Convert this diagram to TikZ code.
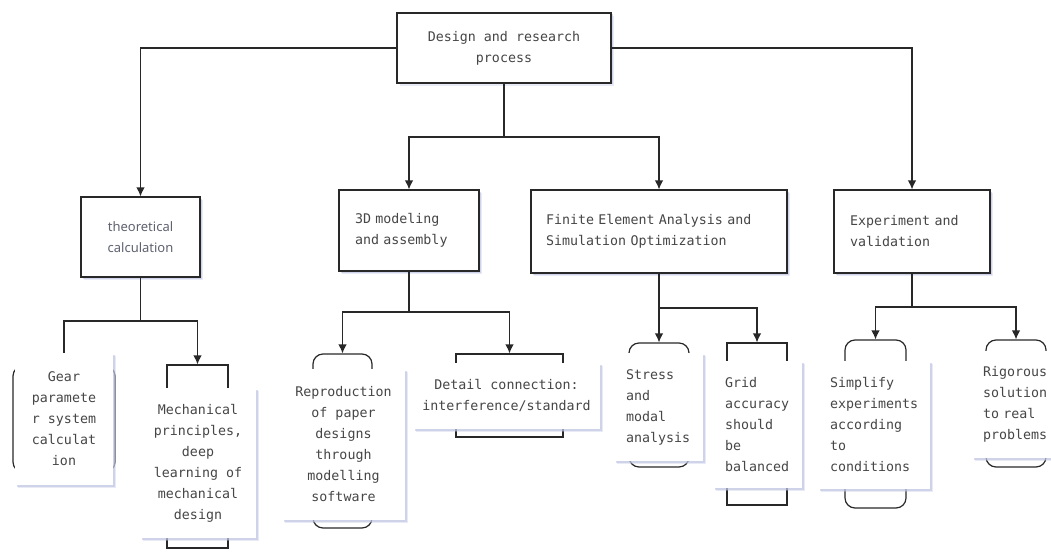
\documentclass[tikz,border=0pt]{standalone}
\usepackage{fontspec}
\setmainfont{Noto Sans}
\newfontfamily\monofont{DejaVu Sans Mono}
\usetikzlibrary{positioning}
\usetikzlibrary{shadows}
\usetikzlibrary{arrows.meta}

\definecolor{inkgray}{RGB}{70,70,70}
\definecolor{sansgray}{RGB}{95,99,112}
\definecolor{linegray}{RGB}{40,40,40}
\definecolor{shadowblue}{RGB}{190,196,225}

\begin{document}
\begin{tikzpicture}[x=1pt,y=-1pt,
    boxshadow/.style={
      drop shadow={shadow xshift=3pt,shadow yshift=-3pt,fill=shadowblue,opacity=0.35},
      drop shadow={shadow xshift=1.5pt,shadow yshift=-1.5pt,fill=shadowblue,opacity=0.6}},
    stage/.style={draw=linegray, line width=1.2pt, fill=white, text=inkgray,
      font=\monofont\fontsize{13.3}{21}\selectfont, boxshadow},
    frame/.style={draw=linegray, line width=1.2pt, fill=white, minimum width=10pt, inner sep=0pt},
    roundframe/.style={frame, rounded corners=10pt},
    panel/.style={fill=white, text=inkgray, inner ysep=0pt,
      font=\monofont\fontsize{13.3}{21}\selectfont, boxshadow},
    link/.style={draw=linegray, line width=1.2pt},
    arrow/.style={link, -{Latex[length=9pt,width=8.5pt]}}]
  \useasboundingbox (0,0) rectangle (1051,559);

  % stages
  \node[stage, minimum width=214pt, minimum height=70pt, align=center] (root) at (504,48)
    {Design and research\\process};
  \node[stage, font=\fontsize{13}{21}\selectfont, text=sansgray, minimum width=119pt,
    minimum height=80pt, align=center] (theo) at (140.5,237) {theoretical\\calculation};
  \node[stage, minimum height=81pt, inner xsep=16pt, text width=108pt, align=left] (model)
    at (409,230.5) {3D modeling\\and assembly};
  \node[stage, minimum height=83pt, inner xsep=15pt, text width=226pt, align=left] (fea)
    at (659,231.5) {Finite Element Analysis and\\Simulation Optimization};
  \node[stage, minimum height=83pt, inner xsep=16pt, text width=124pt, align=left] (exp)
    at (912,231.5) {Experiment and\\validation};

  % frames behind the leaves
  \node[roundframe, minimum width=102pt, minimum height=106pt] (gearframe) at (64,419) {};
  \node[frame, minimum width=61pt, minimum height=183pt] (mechframe) at (197.5,456.5) {};
  \node[roundframe, minimum width=59pt, minimum height=174pt] (reproframe) at (342.5,441) {};
  \node[frame, minimum width=107pt, minimum height=83pt] (detailframe) at (509.5,395.5) {};
  \node[roundframe, minimum width=60pt, minimum height=124pt] (stressframe) at (659,405) {};
  \node[frame, minimum width=60pt, minimum height=162pt] (gridframe) at (757,424) {};
  \node[roundframe, minimum width=61pt, minimum height=168pt] (simpframe) at (875.5,424) {};
  \node[roundframe, minimum width=60pt, minimum height=127pt] (rigframe) at (1016,403.5) {};

  % forks
  \coordinate (rootfork) at (504,137);
  \coordinate (theofork) at (140.5,321);
  \coordinate (modelfork) at (409,312);
  \coordinate (feafork) at (659,308);
  \coordinate (expfork) at (912,307);

  \draw[arrow] (root.west) -| (theo.north);
  \draw[arrow] (root.east) -| (exp.north);
  \draw[link] (root) -- (rootfork);
  \draw[arrow] (rootfork) -| (model.north);
  \draw[arrow] (rootfork) -| (fea.north);

  \draw[link] (theo) -- (theofork);
  \draw[arrow] (theofork) -| (gearframe.north);
  \draw[arrow] (theofork) -| (mechframe.north);
  \draw[link] (model) -- (modelfork);
  \draw[arrow] (modelfork) -| (reproframe.north);
  \draw[arrow] (modelfork) -| (detailframe.north);
  \draw[link] (fea) -- (feafork);
  \draw[arrow] (feafork) -| (stressframe.north);
  \draw[arrow] (feafork) -| (gridframe.north);
  \draw[link] (exp) -- (expfork);
  \draw[arrow] (expfork) -| (simpframe.north);
  \draw[arrow] (expfork) -| (rigframe.north);

  % leaves
  \node[panel, minimum width=98pt, minimum height=132pt, align=center] (gear) at (64,419)
    {Gear\\paramete\\r system\\calculat\\ion};
  \node[panel, minimum width=116pt, minimum height=150pt, align=center] (mech) at (198,463)
    {Mechanical\\principles,\\deep\\learning of\\mechanical\\design};
  \node[panel, minimum width=123pt, minimum height=151pt, align=center] (repro) at (343.5,444.5)
    {Reproduction\\of paper\\designs\\through\\modelling\\software};
  \node[panel, minimum width=187pt, minimum height=66pt, align=center] (detail) at (506.5,396)
    {Detail connection:\\interference/standard};
  \node[panel, minimum height=108pt, inner xsep=12pt, text width=65pt, align=left] (stress)
    at (658.5,407) {Stress\\and\\modal\\analysis};
  \node[panel, minimum height=127pt, inner xsep=12pt, text width=65pt, align=left] (grid)
    at (757.5,424.5) {Grid\\accuracy\\should\\be\\balanced};
  \node[panel, minimum height=128pt, inner xsep=12pt, text width=88pt, align=left] (simp)
    at (874,425) {Simplify\\experiments\\according\\to\\conditions};
  \node[panel, minimum height=107pt, inner xsep=11pt, text width=70pt, align=left] (rig)
    at (1018,404.5) {Rigorous\\solution\\to real\\problems};
\end{tikzpicture}
\end{document}
